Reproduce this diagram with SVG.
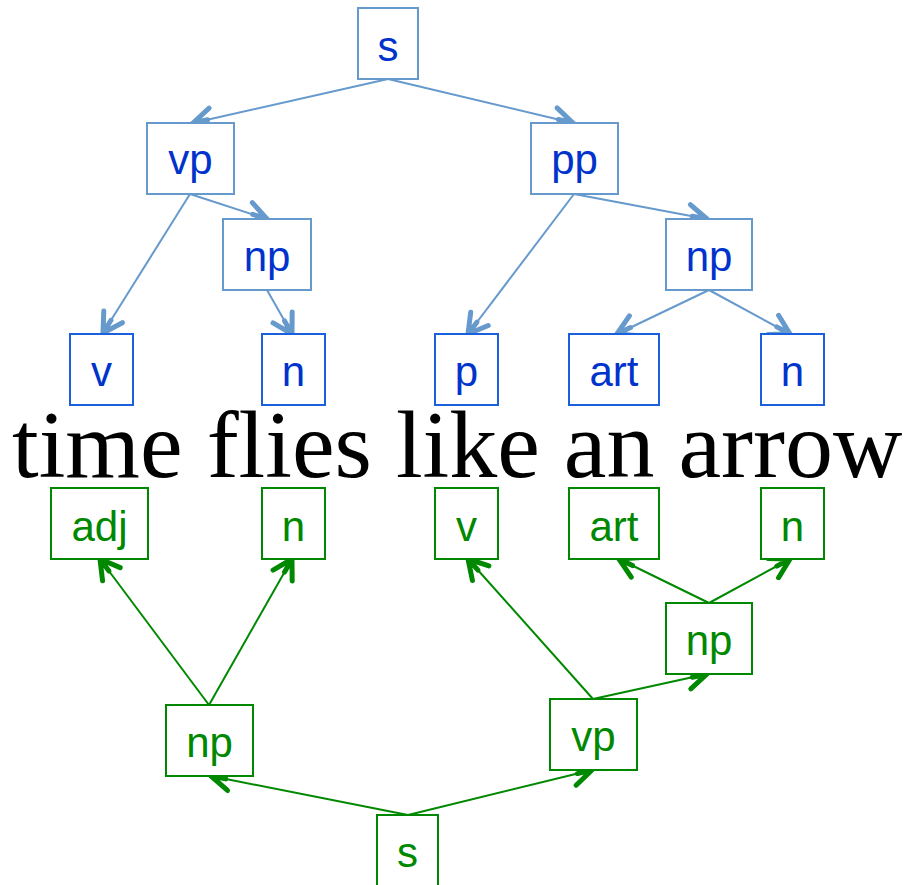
<svg xmlns="http://www.w3.org/2000/svg" width="904" height="885" viewBox="0 0 904 885">
<defs>
<marker id="ab" markerUnits="userSpaceOnUse" markerWidth="40" markerHeight="40" refX="20" refY="20" orient="auto" overflow="visible">
<path d="M1,9 L20,20 L1,31 M5,20 L20,20" fill="none" stroke="#6699CC" stroke-width="5" stroke-linecap="round" stroke-linejoin="round"/>
</marker>
<marker id="ag" markerUnits="userSpaceOnUse" markerWidth="40" markerHeight="40" refX="20" refY="20" orient="auto" overflow="visible">
<path d="M1,9 L20,20 L1,31 M5,20 L20,20" fill="none" stroke="#008800" stroke-width="5" stroke-linecap="round" stroke-linejoin="round"/>
</marker>
</defs>
<style>
.bi{fill:#fff;stroke:#6699CC;stroke-width:2}
.bl{fill:#fff;stroke:#1A5FDD;stroke-width:2}
.g{fill:#fff;stroke:#008800;stroke-width:2}
.tb{font-family:"Liberation Sans",Arial,sans-serif;font-size:42px;fill:#0033CC;text-anchor:middle}
.tg{font-family:"Liberation Sans",Arial,sans-serif;font-size:42px;fill:#008800;text-anchor:middle}
.cb{stroke:#6699CC;stroke-width:2;fill:none;marker-end:url(#ab)}
.cg{stroke:#008800;stroke-width:2;fill:none;marker-end:url(#ag)}
</style>
<rect width="904" height="885" fill="#fff"/>
<g id="connectors">
<line class="cb" x1="388" y1="79" x2="193" y2="123"/>
<line class="cb" x1="388" y1="79" x2="573" y2="123"/>
<line class="cb" x1="190" y1="194" x2="103" y2="333"/>
<line class="cb" x1="190" y1="194" x2="267" y2="219"/>
<line class="cb" x1="267" y1="290" x2="292" y2="334"/>
<line class="cb" x1="574" y1="194" x2="468" y2="334"/>
<line class="cb" x1="574" y1="194" x2="707" y2="219"/>
<line class="cb" x1="709" y1="290" x2="617" y2="334"/>
<line class="cb" x1="709" y1="290" x2="790" y2="334"/>
<line class="cg" x1="408" y1="815" x2="211" y2="776"/>
<line class="cg" x1="408" y1="815" x2="592" y2="770"/>
<line class="cg" x1="209" y1="705" x2="100" y2="559"/>
<line class="cg" x1="209" y1="705" x2="292" y2="559"/>
<line class="cg" x1="593" y1="699" x2="468" y2="559"/>
<line class="cg" x1="593" y1="699" x2="707" y2="674"/>
<line class="cg" x1="709" y1="603" x2="619" y2="559"/>
<line class="cg" x1="709" y1="603" x2="790" y2="559"/>
</g>
<g id="t-s"><rect class="bi" x="358" y="8" width="60" height="71"/><text class="tb" x="388" y="61">s</text></g>
<g id="t-vp"><rect class="bi" x="147" y="123" width="87" height="71"/><text class="tb" x="190.5" y="174">vp</text></g>
<g id="t-pp"><rect class="bi" x="531" y="123" width="87" height="71"/><text class="tb" x="574.5" y="174">pp</text></g>
<g id="t-np1"><rect class="bi" x="223" y="219" width="88" height="71"/><text class="tb" x="267" y="271">np</text></g>
<g id="t-np2"><rect class="bi" x="666" y="219" width="86" height="71"/><text class="tb" x="709" y="271">np</text></g>
<g id="t-v"><rect class="bl" x="70" y="334" width="63" height="71"/><text class="tb" x="101.5" y="386">v</text></g>
<g id="t-n1"><rect class="bl" x="262" y="334" width="63" height="71"/><text class="tb" x="293.5" y="386">n</text></g>
<g id="t-p"><rect class="bl" x="435" y="334" width="63" height="71"/><text class="tb" x="466.5" y="386">p</text></g>
<g id="t-art"><rect class="bl" x="569" y="334" width="90" height="71"/><text class="tb" x="614" y="386">art</text></g>
<g id="t-n2"><rect class="bl" x="761" y="334" width="63" height="71"/><text class="tb" x="792.5" y="386">n</text></g>
<g id="sentence"><text x="12" y="477" font-family="'Liberation Serif','Times New Roman',serif" font-size="96" fill="#000">time flies like an arrow</text></g>
<g id="b-adj"><rect class="g" x="51" y="488" width="97" height="71"/><text class="tg" x="99.5" y="541">adj</text></g>
<g id="b-n1"><rect class="g" x="262" y="488" width="63" height="71"/><text class="tg" x="293.5" y="541">n</text></g>
<g id="b-v"><rect class="g" x="435" y="488" width="63" height="71"/><text class="tg" x="466.5" y="541">v</text></g>
<g id="b-art"><rect class="g" x="569" y="488" width="90" height="71"/><text class="tg" x="614" y="541">art</text></g>
<g id="b-n2"><rect class="g" x="761" y="488" width="63" height="71"/><text class="tg" x="792.5" y="541">n</text></g>
<g id="b-np2"><rect class="g" x="666" y="603" width="86" height="71"/><text class="tg" x="709" y="655">np</text></g>
<g id="b-vp"><rect class="g" x="550" y="699" width="87" height="71"/><text class="tg" x="593.5" y="751">vp</text></g>
<g id="b-np1"><rect class="g" x="166" y="705" width="87" height="71"/><text class="tg" x="209.5" y="757">np</text></g>
<g id="b-s"><rect class="g" x="377" y="815" width="61" height="71"/><text class="tg" x="407.5" y="867">s</text></g>
</svg>
